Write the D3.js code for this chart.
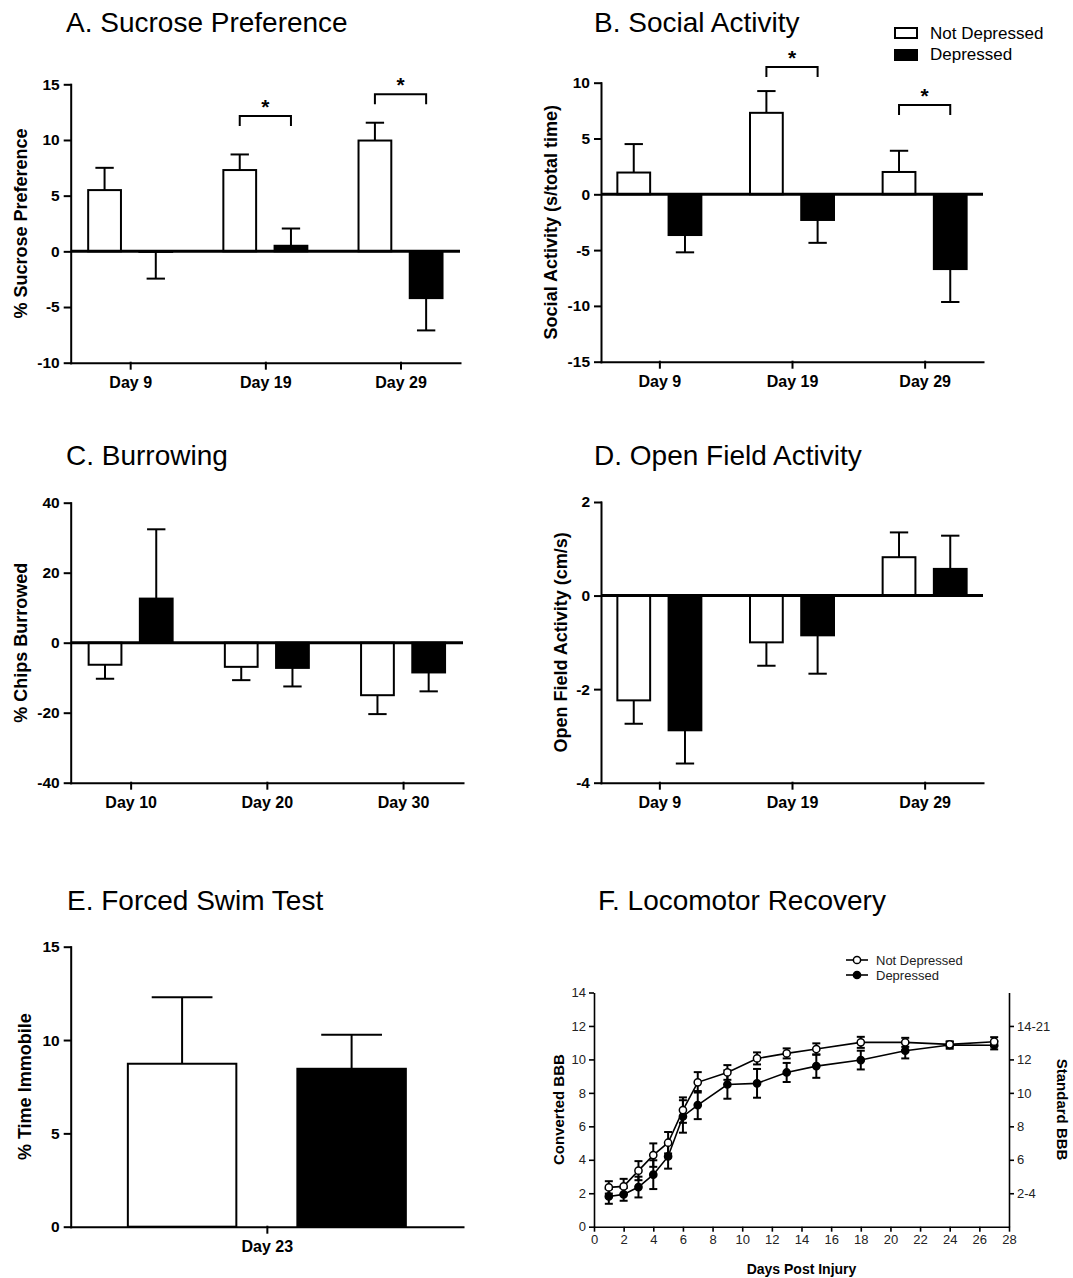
<!DOCTYPE html>
<html>
<head>
<meta charset="utf-8">
<script src="https://cdn.jsdelivr.net/npm/d3@7"></script>
<style>
  body { margin: 0; background: #fff; }
  svg { display: block; }
  text { font-family: "Liberation Sans", Arial, Helvetica, sans-serif; }
</style>
</head>
<body>
<div id="root"></div>
<script>
// ---- data ----
const sucroseDays = ["Day 9", "Day 19", "Day 29"];
const sucroseND = [5.5, 7.3, 9.95];
const sucroseNDsem = [2.0, 1.4, 1.6];
const sucroseD = [-0.05, 0.5, -4.2];
const sucroseDsem = [2.4, 1.55, 2.9];
const sucroseSig = [{ day: "Day 19", y: 12.15 }, { day: "Day 29", y: 14.1 }];

const socialDays = ["Day 9", "Day 19", "Day 29"];
const socialND = [1.95, 7.3, 2.0];
const socialNDsem = [2.55, 1.95, 1.9];
const socialD = [-3.65, -2.3, -6.7];
const socialDsem = [1.55, 2.05, 2.95];
const socialSig = [{ day: "Day 19", y: 11.4 }, { day: "Day 29", y: 8.0 }];

const burrowDays = ["Day 10", "Day 20", "Day 30"];
const burrowND = [-6.3, -6.9, -15];
const burrowNDsem = [4.0, 3.8, 5.4];
const burrowD = [12.6, -7.2, -8.5];
const burrowDsem = [19.8, 5.3, 5.4];

const openDays = ["Day 9", "Day 19", "Day 29"];
const openND = [-2.24, -1.0, 0.82];
const openNDsem = [0.5, 0.5, 0.53];
const openD = [-2.88, -0.85, 0.57];
const openDsem = [0.71, 0.82, 0.71];

const swimDays = ["Day 23"];
const swimND = [8.73];
const swimNDsem = [3.56];
const swimD = [8.46];
const swimDsem = [1.82];

const locoDays = [1, 2, 3, 4, 5, 6, 7, 9, 11, 13, 15, 18, 21, 24, 27];
const locoND = [2.35, 2.41, 3.35, 4.28, 5.02, 6.97, 8.63, 9.22, 10.06, 10.36, 10.62, 11.02, 11.02, 10.9, 11.06];
const locoNDsem = [0.37, 0.45, 0.57, 0.7, 0.64, 0.76, 0.61, 0.44, 0.36, 0.3, 0.34, 0.33, 0.27, 0.15, 0.27];
const locoD = [1.81, 1.93, 2.37, 3.11, 4.2, 6.59, 7.27, 8.5, 8.57, 9.22, 9.6, 9.96, 10.52, 10.86, 10.85];
const locoDsem = [0.44, 0.38, 0.62, 0.86, 0.73, 0.97, 0.84, 0.85, 0.86, 0.57, 0.7, 0.56, 0.46, 0.22, 0.25];
const locoXTicks = [0, 2, 4, 6, 8, 10, 12, 14, 16, 18, 20, 22, 24, 26, 28];
const locoYTicks = [0, 2, 4, 6, 8, 10, 12, 14];
const standardTicks = [2, 4, 6, 8, 10, 12];
const standardLabels = ["2-4", "6", "8", "10", "12", "14-21"];

const groups = ["Not Depressed", "Depressed"];

// plain labels with a hyphen minus, like the original
const plain = d => String(d);

const svg = d3.select("#root")
  .append("svg")
    .attr("width", 1073)
    .attr("height", 1278);

svg.append("rect").attr("width", 1073).attr("height", 1278).attr("fill", "#fff");

// ---- bar panel helper ----
function barPanel(p) {
  const g = svg.append("g");
  const y = d3.scaleLinear().domain(p.domain).range([p.yBot, p.yTop]);
  const x = d3.scalePoint().domain(p.cats).range([p.x0, p.x1]).padding(0.44);
  const inner = d3.scaleBand().domain(groups).range([-p.half, p.half]).paddingInner(0.36);
  const bw = inner.bandwidth();

  g.append("text")
    .attr("x", p.tx).attr("y", p.ty)
    .style("font-size", "28px")
    .text(p.title);

  const rows = p.cats.flatMap((c, i) => [
    { c, grp: groups[0], v: p.nd[i], e: p.ndSem[i] },
    { c, grp: groups[1], v: p.d[i], e: p.dSem[i] }
  ]);

  // error bars (one-sided, away from zero)
  const end = d => y(d.v + (d.v >= 0 ? 1 : -1) * d.e);
  const err = g.selectAll("g.err").data(rows).enter().append("g")
    .attr("stroke", "#000").attr("stroke-width", 2);
  err.append("line")
    .attr("x1", d => x(d.c) + inner(d.grp) + bw / 2)
    .attr("x2", d => x(d.c) + inner(d.grp) + bw / 2)
    .attr("y1", d => y(d.v))
    .attr("y2", end);
  err.append("line")
    .attr("x1", d => x(d.c) + inner(d.grp) + bw / 2 - bw * 0.28)
    .attr("x2", d => x(d.c) + inner(d.grp) + bw / 2 + bw * 0.28)
    .attr("y1", end)
    .attr("y2", end);

  g.selectAll("rect.bar").data(rows).enter().append("rect")
    .attr("x", d => x(d.c) + inner(d.grp))
    .attr("width", bw)
    .attr("y", d => Math.min(y(d.v), y(0)))
    .attr("height", d => Math.abs(y(d.v) - y(0)))
    .attr("fill", d => d.grp === groups[0] ? "#fff" : "#000")
    .attr("stroke", "#000")
    .attr("stroke-width", 2);

  // zero line
  if (p.domain[0] < 0) {
    g.append("line")
      .attr("x1", p.x0).attr("x2", p.x1)
      .attr("y1", y(0)).attr("y2", y(0))
      .attr("stroke", "#000").attr("stroke-width", 3);
  }

  // significance brackets
  (p.sig || []).forEach(s => {
    const xa = x(s.day) + inner(groups[0]) + bw / 2;
    const xb = x(s.day) + inner(groups[1]) + bw / 2;
    const yb = y(s.y);
    g.append("path")
      .attr("d", `M${xa},${yb + 10}V${yb}H${xb}V${yb + 10}`)
      .attr("fill", "none").attr("stroke", "#000").attr("stroke-width", 2);
    g.append("text")
      .attr("x", (xa + xb) / 2).attr("y", yb - 2)
      .attr("text-anchor", "middle")
      .style("font-size", "21px").style("font-weight", "bold")
      .text("*");
  });

  // axes
  const ya = g.append("g")
    .attr("transform", `translate(${p.x0},0)`)
    .call(d3.axisLeft(y).tickValues(p.ticks).tickFormat(plain)
      .tickSize(6).tickSizeOuter(0).tickPadding(5));
  const xa = g.append("g")
    .attr("transform", `translate(0,${p.yBot})`)
    .call(d3.axisBottom(x).tickSize(6).tickSizeOuter(0).tickPadding(8));
  [ya, xa].forEach(a => {
    a.selectAll("path, line").attr("stroke", "#000").attr("stroke-width", 2).attr("stroke-linecap", "square");
    a.selectAll("text").attr("fill", "#000").style("font-weight", "bold");
  });
  ya.selectAll("text").style("font-size", "15.5px");
  xa.selectAll("text").style("font-size", "16px");

  g.append("text")
    .attr("transform", `translate(${p.ylx},${(p.yTop + p.yBot) / 2})rotate(-90)`)
    .attr("text-anchor", "middle")
    .style("font-size", "18px").style("font-weight", "bold")
    .text(p.ylabel);
}

barPanel({
  title: "A. Sucrose Preference", tx: 66, ty: 32,
  cats: sucroseDays, nd: sucroseND, ndSem: sucroseNDsem, d: sucroseD, dSem: sucroseDsem,
  sig: sucroseSig, domain: [-10, 15], ticks: [-10, -5, 0, 5, 10, 15],
  x0: 70.7, x1: 460, yTop: 84.3, yBot: 362.7, half: 42,
  ylabel: "% Sucrose Preference", ylx: 27
});

barPanel({
  title: "B. Social Activity", tx: 594, ty: 32,
  cats: socialDays, nd: socialND, ndSem: socialNDsem, d: socialD, dSem: socialDsem,
  sig: socialSig, domain: [-15, 10], ticks: [-15, -10, -5, 0, 5, 10],
  x0: 601, x1: 983, yTop: 82.7, yBot: 361.7, half: 42,
  ylabel: "Social Activity (s/total time)", ylx: 557
});

barPanel({
  title: "C. Burrowing", tx: 66, ty: 465,
  cats: burrowDays, nd: burrowND, ndSem: burrowNDsem, d: burrowD, dSem: burrowDsem,
  domain: [-40, 40], ticks: [-40, -20, 0, 20, 40],
  x0: 70.7, x1: 463, yTop: 502.7, yBot: 782.7, half: 42,
  ylabel: "% Chips Burrowed", ylx: 27
});

barPanel({
  title: "D. Open Field Activity", tx: 594, ty: 465,
  cats: openDays, nd: openND, ndSem: openNDsem, d: openD, dSem: openDsem,
  domain: [-4, 2], ticks: [-4, -2, 0, 2],
  x0: 601, x1: 983, yTop: 502, yBot: 782.7, half: 42,
  ylabel: "Open Field Activity (cm/s)", ylx: 567
});

barPanel({
  title: "E. Forced Swim Test", tx: 67, ty: 910,
  cats: swimDays, nd: swimND, ndSem: swimNDsem, d: swimD, dSem: swimDsem,
  domain: [0, 15], ticks: [0, 5, 10, 15],
  x0: 70.7, x1: 463, yTop: 946.7, yBot: 1226.7, half: 139,
  ylabel: "% Time Immobile", ylx: 31
});

// legend for the bar panels
const leg = svg.append("g");
groups.forEach((gname, i) => {
  leg.append("rect")
    .attr("x", 895).attr("y", 28 + i * 22).attr("width", 22).attr("height", 10)
    .attr("fill", i === 0 ? "#fff" : "#000").attr("stroke", "#000").attr("stroke-width", 2);
  leg.append("text")
    .attr("x", 930).attr("y", 39 + i * 21)
    .style("font-size", "17px")
    .text(gname);
});

// ---- F. Locomotor Recovery ----
(function () {
  const g = svg.append("g");
  const x0 = 594, x1 = 1009, yTop = 992.5, yBot = 1226.7;
  const x = d3.scaleLinear().domain([0, 28]).range([x0, x1]);
  const y = d3.scaleLinear().domain([0, 14]).range([yBot, yTop]);

  g.append("text").attr("x", 598).attr("y", 910).style("font-size", "28px").text("F. Locomotor Recovery");

  const series = [
    { name: groups[1], v: locoD, e: locoDsem, fill: "#000" },
    { name: groups[0], v: locoND, e: locoNDsem, fill: "#fff" }
  ];
  const lineGen = d3.line().x(d => x(d.day)).y(d => y(d.v));

  series.forEach(s => {
    const pts = locoDays.map((day, i) => ({ day, v: s.v[i], e: s.e[i] }));
    g.append("path").datum(pts)
      .attr("d", lineGen)
      .attr("fill", "none").attr("stroke", "#000").attr("stroke-width", 1.6);
    const eb = g.selectAll(null).data(pts).enter().append("g")
      .attr("stroke", "#000").attr("stroke-width", 2);
    eb.append("line")
      .attr("x1", d => x(d.day)).attr("x2", d => x(d.day))
      .attr("y1", d => y(d.v - d.e)).attr("y2", d => y(d.v + d.e));
    [-1, 1].forEach(sg => {
      eb.append("line")
        .attr("x1", d => x(d.day) - 4).attr("x2", d => x(d.day) + 4)
        .attr("y1", d => y(d.v + sg * d.e)).attr("y2", d => y(d.v + sg * d.e));
    });
    g.selectAll(null).data(pts).enter().append("circle")
      .attr("cx", d => x(d.day)).attr("cy", d => y(d.v)).attr("r", 3.6)
      .attr("fill", s.fill).attr("stroke", "#000").attr("stroke-width", 1.5);
  });

  const xa = g.append("g").attr("transform", `translate(0,${yBot})`)
    .call(d3.axisBottom(x).tickValues(locoXTicks).tickFormat(plain)
      .tickSize(5).tickSizeOuter(0).tickPadding(3));
  const ya = g.append("g").attr("transform", `translate(${x0},0)`)
    .call(d3.axisLeft(y).tickValues(locoYTicks).tickFormat(plain)
      .tickSize(5).tickSizeOuter(0).tickPadding(3));
  const yr = g.append("g").attr("transform", `translate(${x1},0)`)
    .call(d3.axisRight(y).tickValues(standardTicks).tickFormat((d, i) => standardLabels[i])
      .tickSize(5).tickSizeOuter(0).tickPadding(3));
  [xa, ya, yr].forEach(a => {
    a.selectAll("path, line").attr("stroke", "#000").attr("stroke-width", 1.6);
    a.selectAll("text").attr("fill", "#222").style("font-size", "13px");
  });

  g.append("text")
    .attr("x", (x0 + x1) / 2).attr("y", 1274)
    .attr("text-anchor", "middle")
    .style("font-size", "14px").style("font-weight", "bold")
    .text("Days Post Injury");
  g.append("text")
    .attr("transform", `translate(564,${(yTop + yBot) / 2})rotate(-90)`)
    .attr("text-anchor", "middle")
    .style("font-size", "15px").style("font-weight", "bold")
    .text("Converted BBB");
  g.append("text")
    .attr("transform", `translate(1057,${(yTop + yBot) / 2})rotate(90)`)
    .attr("text-anchor", "middle")
    .style("font-size", "15px").style("font-weight", "bold")
    .text("Standard BBB");

  // legend
  groups.forEach((gname, i) => {
    const ly = 960 + i * 15;
    g.append("line").attr("x1", 846).attr("x2", 868).attr("y1", ly).attr("y2", ly)
      .attr("stroke", "#000").attr("stroke-width", 1.6);
    g.append("circle").attr("cx", 857).attr("cy", ly).attr("r", 3.6)
      .attr("fill", i === 0 ? "#fff" : "#000").attr("stroke", "#000").attr("stroke-width", 1.5);
    g.append("text").attr("x", 876).attr("y", ly + 5)
      .attr("fill", "#222").style("font-size", "13px").text(gname);
  });
})();
</script>
</body>
</html>
